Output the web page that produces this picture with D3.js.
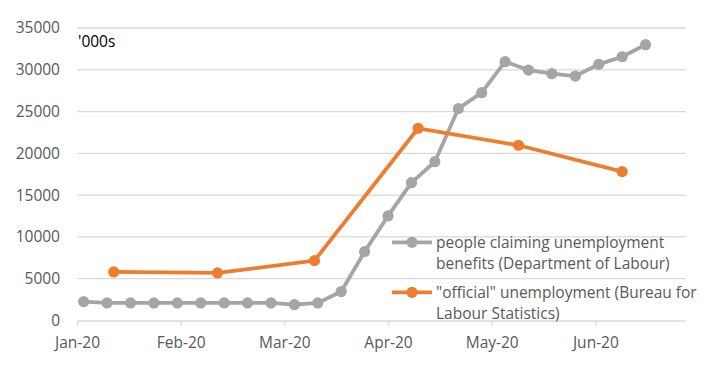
<!DOCTYPE html>
<html>
<head>
<meta charset="utf-8">
<script src="https://cdn.jsdelivr.net/npm/d3@7"></script>
<style>
  body { margin: 0; background: #fff; }
  text { font-family: "Open Sans", sans-serif; }
</style>
</head>
<body>
<svg id="chart" width="721" height="373"></svg>
<script>
// weekly claims ('000s), Department of Labour
const claimDates = [
  '2020-01-03', '2020-01-10', '2020-01-17', '2020-01-24', '2020-01-31',
  '2020-02-07', '2020-02-14', '2020-02-21', '2020-02-28', '2020-03-06',
  '2020-03-13', '2020-03-20', '2020-03-27', '2020-04-03', '2020-04-10',
  '2020-04-17', '2020-04-24', '2020-05-01', '2020-05-08', '2020-05-15',
  '2020-05-22', '2020-05-29', '2020-06-05', '2020-06-12', '2020-06-19'
];
const claimValues = [
  2260, 2100, 2100, 2100, 2100, 2100, 2100, 2100, 2100, 1900,
  2100, 3460, 8240, 12510, 16490, 19000, 25350, 27260, 30970, 29970,
  29530, 29250, 30650, 31560, 33000
];

// monthly "official" unemployment ('000s), BLS
const officialDates = ['2020-01-12', '2020-02-12', '2020-03-12', '2020-04-12', '2020-05-12', '2020-06-12'];
const officialValues = [5810, 5690, 7160, 23000, 20970, 17810];

const yTicks = [0, 5000, 10000, 15000, 20000, 25000, 30000, 35000];
// Excel date axis, major unit 31 days
const xTickDates = ['2020-01-01', '2020-02-01', '2020-03-03', '2020-04-03', '2020-05-04', '2020-06-04'];
const xDomain = ['2020-01-01', '2020-07-01'];

const seriesNames = [
  ['people claiming unemployment', 'benefits (Department of Labour)'],
  ['"official" unemployment (Bureau for', 'Labour Statistics)']
];
const seriesColors = ['#a5a5a5', '#ed7d31'];

const parse = d3.utcParse('%Y-%m-%d');

const svg = d3.select('#chart');
const plotLeft = 77, plotRight = 685.7, plotTop = 28, plotBottom = 320.5;

const x = d3.scaleUtc()
  .domain(xDomain.map(parse))
  .range([plotLeft, plotRight]);

const y = d3.scaleLinear()
  .domain([0, 35000])
  .range([plotBottom, plotTop]);

// gridlines
svg.append('g')
  .selectAll('line')
  .data(yTicks.filter(d => d > 0))
  .enter()
  .append('line')
  .attr('x1', plotLeft)
  .attr('x2', plotRight)
  .attr('y1', d => y(d))
  .attr('y2', d => y(d))
  .attr('stroke', '#d9d9d9')
  .attr('stroke-width', 1.3);

// y axis labels
const yAxis = svg.append('g')
  .attr('transform', `translate(${plotLeft},0)`)
  .call(d3.axisLeft(y).tickValues(yTicks).tickSize(0).tickPadding(17).tickFormat(d3.format('d')));
yAxis.select('.domain').remove();
yAxis.selectAll('text')
  .attr('fill', '#595959')
  .style('font-size', '15.5px');

// x axis
const xAxis = svg.append('g')
  .attr('transform', `translate(0,${plotBottom})`)
  .call(d3.axisBottom(x)
    .tickValues(xTickDates.map(parse))
    .tickSize(5)
    .tickSizeOuter(0)
    .tickPadding(11)
    .tickFormat(d3.utcFormat('%b-%y')));
xAxis.select('.domain').attr('stroke', '#d9d9d9').attr('stroke-width', 1.3);
xAxis.selectAll('.tick line').attr('stroke', '#d9d9d9').attr('stroke-width', 1.3);
xAxis.selectAll('text')
  .attr('fill', '#595959')
  .style('font-size', '15.5px');

// units label
svg.append('text')
  .attr('x', plotLeft + 1)
  .attr('y', 47)
  .attr('fill', '#000')
  .style('font-size', '15.5px')
  .text("'000s");

const series = [
  claimDates.map((d, i) => ({ date: parse(d), value: claimValues[i] })),
  officialDates.map((d, i) => ({ date: parse(d), value: officialValues[i] }))
];

const line = d3.line()
  .x(d => x(d.date))
  .y(d => y(d.value));

series.forEach((data, i) => {
  const g = svg.append('g');
  g.append('path')
    .datum(data)
    .attr('d', line)
    .attr('fill', 'none')
    .attr('stroke', seriesColors[i])
    .attr('stroke-width', 3.8)
    .attr('stroke-linejoin', 'round');
  g.selectAll('circle')
    .data(data)
    .enter()
    .append('circle')
    .attr('cx', d => x(d.date))
    .attr('cy', d => y(d.value))
    .attr('r', 5.6)
    .attr('fill', seriesColors[i]);
});

// legend
const legendY = [242.3, 292.3];
seriesNames.forEach((lines, i) => {
  const g = svg.append('g').attr('transform', `translate(392,${legendY[i]})`);
  g.append('line')
    .attr('x1', 0).attr('x2', 40)
    .attr('stroke', seriesColors[i])
    .attr('stroke-width', 3.8);
  g.append('circle')
    .attr('cx', 20)
    .attr('r', 5.6)
    .attr('fill', seriesColors[i]);
  g.append('text')
    .attr('x', 44)
    .attr('y', 5.5)
    .attr('fill', '#595959')
    .style('font-size', '15.5px')
    .selectAll('tspan')
    .data(lines)
    .enter()
    .append('tspan')
    .attr('x', 44)
    .attr('dy', (d, j) => j === 0 ? 0 : 21.5)
    .text(d => d);
});
</script>
</body>
</html>
